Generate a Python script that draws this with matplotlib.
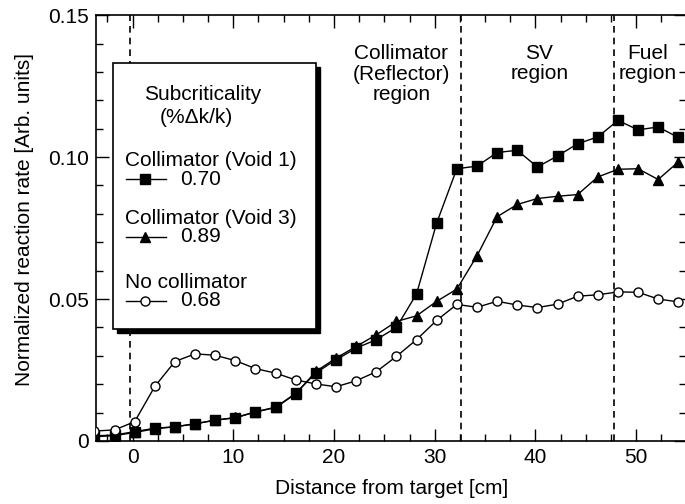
import matplotlib
matplotlib.use("Agg")
import matplotlib.pyplot as plt
from matplotlib.patches import Rectangle
from matplotlib.lines import Line2D
from matplotlib.ticker import MultipleLocator, FixedLocator, FuncFormatter

plt.rcParams["font.family"] = ["Liberation Sans", "DejaVu Sans"]
plt.rcParams["font.size"] = 15

# 测点位置 [cm]
dist = [-3.8, -1.8, 0.2, 2.2, 4.2, 6.2, 8.2, 10.2, 12.2, 14.2,
        16.2, 18.2, 20.2, 22.2, 24.2, 26.2, 28.2, 30.2, 32.2, 34.2,
        36.2, 38.2, 40.2, 42.2, 44.2, 46.2, 48.2, 50.2, 52.2, 54.2]

# Collimator (Void 1), 0.70 %dk/k
void1 = [0.0018, 0.0021, 0.0033, 0.0045, 0.0050, 0.0060, 0.0074, 0.0081, 0.0103, 0.0119,
         0.0168, 0.0240, 0.0286, 0.0327, 0.0357, 0.0400, 0.0518, 0.0768, 0.0959, 0.0968,
         0.1016, 0.1024, 0.0965, 0.1004, 0.1047, 0.1071, 0.1129, 0.1096, 0.1106, 0.1069]

# Collimator (Void 3), 0.89 %dk/k
void3 = [0.0015, 0.0019, 0.0030, 0.0043, 0.0050, 0.0061, 0.0073, 0.0083, 0.0102, 0.0118,
         0.0166, 0.0245, 0.0292, 0.0333, 0.0374, 0.0421, 0.0441, 0.0492, 0.0535, 0.0652,
         0.0790, 0.0833, 0.0854, 0.0862, 0.0868, 0.0930, 0.0957, 0.0959, 0.0921, 0.0983]

# No collimator, 0.68 %dk/k
no_coll = [0.0035, 0.0039, 0.0068, 0.0192, 0.0280, 0.0307, 0.0302, 0.0283, 0.0255, 0.0239,
           0.0215, 0.0201, 0.0191, 0.0212, 0.0244, 0.0298, 0.0357, 0.0425, 0.0481, 0.0471,
           0.0492, 0.0479, 0.0470, 0.0482, 0.0510, 0.0515, 0.0525, 0.0524, 0.0500, 0.0490]

# 区域分界线
boundaries = [-0.3, 32.6, 47.8]

fig = plt.figure(figsize=(6.85, 5.04), dpi=100)
ax = fig.add_axes([0.140, 0.125, 0.862, 0.845])

ax.plot(dist, void3, "-", color="black", lw=1.0, marker="^", ms=7.5,
        mfc="black", mec="black", zorder=3)
ax.plot(dist, void1, "-", color="black", lw=1.0, marker="s", ms=6.5,
        mfc="black", mec="black", zorder=4)
ax.plot(dist, no_coll, "-", color="black", lw=1.0, marker="o", ms=6.5,
        mfc="white", mec="black", mew=1.0, zorder=5)

for b in boundaries:
    ax.axvline(b, color="black", lw=1.2, ls=(0, (4, 3)), zorder=2)

ax.set_xlim(-3.65, 55)
ax.set_ylim(0, 0.15)

ax.xaxis.set_major_locator(FixedLocator([0, 10, 20, 30, 40, 50]))
ax.xaxis.set_minor_locator(MultipleLocator(2.5))
ax.yaxis.set_major_locator(FixedLocator([0, 0.05, 0.10, 0.15]))
ax.yaxis.set_minor_locator(MultipleLocator(0.01))
ax.yaxis.set_major_formatter(FuncFormatter(lambda v, p: "0" if v == 0 else f"{v:.2f}"))

ax.tick_params(which="both", direction="in", top=True, right=True, width=1.0)
ax.tick_params(which="major", length=9, pad=5)
ax.tick_params(which="minor", length=5)
for s in ax.spines.values():
    s.set_linewidth(1.2)

ax.set_xlabel("Distance from target [cm]", labelpad=9)
ax.set_ylabel("Normalized reaction rate [Arb. units]")
ax.yaxis.set_label_coords(-0.104, 0.52)

# 区域标注
ax.text(26.7, 0.1292, "Collimator\n(Reflector)\nregion", ha="center", va="center",
        multialignment="center", linespacing=1.1)
ax.text(40.4, 0.1329, "SV\nregion", ha="center", va="center",
        multialignment="center", linespacing=1.1)
ax.text(51.2, 0.1329, "Fuel\nregion", ha="center", va="center",
        multialignment="center", linespacing=1.1)

# 手绘图例框（带阴影）
W, H = 685.0, 504.0
def fx(px):
    return px / W
def fy(py):
    return 1 - py / H

shadow = Rectangle((fx(117), fy(333)), fx(320) - fx(117), fy(67) - fy(333),
                   transform=fig.transFigure, facecolor="black", edgecolor="black",
                   zorder=10)
box = Rectangle((fx(113), fy(329)), fx(316) - fx(113), fy(63) - fy(329),
                transform=fig.transFigure, facecolor="white", edgecolor="black",
                lw=1.2, zorder=11)
fig.add_artist(shadow)
fig.add_artist(box)

fig.text(fx(203), fy(95), "Subcriticality", ha="center", va="center", zorder=12)
fig.text(fx(196), fy(117), "(%\u0394k/k)", ha="center", va="center", zorder=12)

entries = [("Collimator (Void 1)", "0.70", dict(marker="s", ms=6.5, mfc="black"), 160),
           ("Collimator (Void 3)", "0.89", dict(marker="^", ms=7.5, mfc="black"), 218),
           ("No collimator", "0.68", dict(marker="o", ms=6.5, mfc="white"), 282)]
for label, val, mk, py in entries:
    fig.text(fx(125), fy(py), label, ha="left", va="center", zorder=12)
    fig.add_artist(Line2D([fx(126), fx(166)], [fy(py + 19)] * 2, transform=fig.transFigure,
                          color="black", lw=1.0, zorder=12))
    fig.add_artist(Line2D([fx(145)], [fy(py + 19)], transform=fig.transFigure,
                          color="black", mec="black", ls="none", zorder=13, **mk))
    fig.text(fx(180), fy(py + 19), val, ha="left", va="center", zorder=12)

fig.savefig("out.png", dpi=100)
